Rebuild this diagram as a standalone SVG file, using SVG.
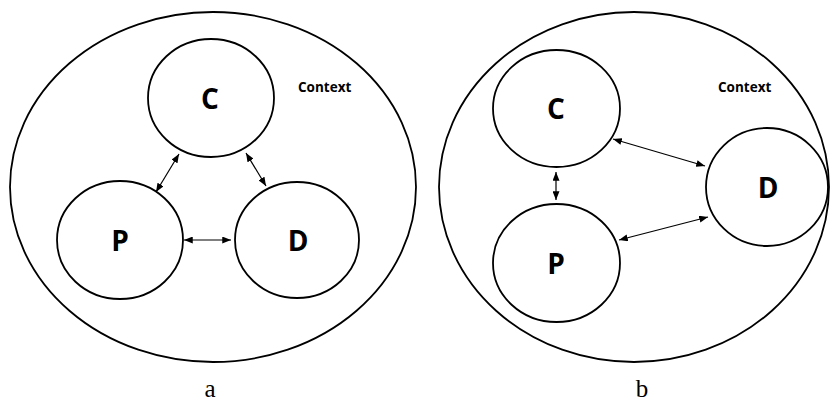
<svg xmlns="http://www.w3.org/2000/svg" width="830" height="404" viewBox="0 0 830 404">
<style>
.ctx{fill:none;stroke:#000;stroke-width:1.8}
.node{fill:#fff;stroke:#000;stroke-width:1.8}
.lbl{font-family:"Open Sans","Noto Sans",sans-serif;font-weight:bold;font-size:28px;text-anchor:middle;fill:#000}
.ctxt{font-family:"Open Sans","Noto Sans",sans-serif;font-weight:bold;font-size:13.5px;fill:#000}
.cap{font-family:"Liberation Serif",serif;font-size:25px;text-anchor:middle;fill:#000}
.arr{stroke:#000;stroke-width:1.2;fill:none;marker-start:url(#ah);marker-end:url(#ah)}
</style>
<defs>
<marker id="ah" markerUnits="userSpaceOnUse" viewBox="0 0 10 8" refX="10" refY="4" markerWidth="9" markerHeight="7" orient="auto-start-reverse">
<path d="M0,0 L10,4 L0,8 z" fill="#000"/>
</marker>
</defs>
<rect width="830" height="404" fill="#fff"/>
<g id="context-a">
<ellipse class="ctx" cx="213" cy="187" rx="203" ry="175"/>
<text class="ctxt" x="298" y="92">Context</text>
</g>
<g id="C-a"><ellipse class="node" cx="211" cy="98" rx="63" ry="59"/><text class="lbl" x="210" y="109">C</text></g>
<g id="P-a"><ellipse class="node" cx="120" cy="240" rx="63" ry="59"/><text class="lbl" x="120" y="251">P</text></g>
<g id="D-a"><ellipse class="node" cx="297" cy="240" rx="62" ry="58"/><text class="lbl" x="298" y="251">D</text></g>
<g id="context-b">
<ellipse class="ctx" cx="634" cy="187" rx="195" ry="175"/>
<text class="ctxt" x="718" y="92">Context</text>
</g>
<g id="C-b"><ellipse class="node" cx="556.5" cy="108.5" rx="63.5" ry="58.5"/><text class="lbl" x="556" y="119">C</text></g>
<g id="P-b"><ellipse class="node" cx="556.5" cy="263" rx="63.5" ry="59"/><text class="lbl" x="556" y="274">P</text></g>
<g id="D-b"><ellipse class="node" cx="767" cy="187" rx="61" ry="59"/><text class="lbl" x="768" y="198">D</text></g>
<g id="connectors">
<line class="arr" x1="179" y1="154" x2="156" y2="192"/>
<line class="arr" x1="246" y1="153" x2="266" y2="186"/>
<line class="arr" x1="184" y1="240" x2="231" y2="240"/>
<line class="arr" x1="556" y1="172" x2="556" y2="200"/>
<line class="arr" x1="613" y1="139" x2="705" y2="166"/>
<line class="arr" x1="619" y1="240" x2="708" y2="217"/>
</g>
<text class="cap" x="210" y="397">a</text>
<text class="cap" x="642" y="397">b</text>
</svg>
